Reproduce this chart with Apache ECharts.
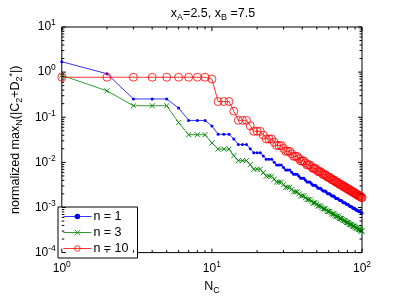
<!DOCTYPE html>
<html>
<head>
<meta charset="utf-8">
<script src="https://cdn.jsdelivr.net/npm/echarts@6/dist/echarts.min.js"></script>
<style>html,body{margin:0;padding:0;background:#fff}#c{width:399px;height:300px}</style>
</head>
<body>
<div id="c"></div>
<script>
// x values: N_C = 1..100
const nC = Array.from({length: 100}, (_, i) => i + 1);

const seriesNames = ['n = 1', 'n = 3', 'n = 10'];

// n = 1 (blue)
const n1 = [1.70,0.92,0.254,0.254,0.254,0.16,0.085,0.085,0.085,0.064,
0.042,0.042,0.042,0.033,0.0248,0.0248,0.0248,0.020,0.0164,0.0164,
0.0164,0.0139,0.01167,0.01167,0.01167,0.0101,0.00872,0.00872,0.00872,0.00769,
0.00678,0.00678,0.00678,0.00606,0.00542,0.00542,0.00542,0.0049,0.004425,0.004425,
0.004425,0.004037,0.003683,0.003683,0.003683,0.003388,0.003116,0.003116,0.003116,0.002884,
0.00267,0.00267,0.00267,0.002486,0.002315,0.002315,0.002315,0.002165,0.002025,0.002025,
0.002025,0.001902,0.001787,0.001787,0.001787,0.001686,0.00159,0.00159,0.00159,0.001505,
0.001424,0.001424,0.001424,0.00135,0.001281,0.001281,0.001281,0.001218,0.001159,0.001159,
0.001159,0.001105,0.001054,0.001054,0.001054,0.001007,0.000963,0.000963,0.000963,0.000922,
0.000883,0.000883,0.000883,0.000847,0.000813,0.000813,0.000813,0.000781,0.00075,0.00075];

// n = 3 (green)
const n3 = [0.85,0.385,0.18,0.18,0.18,0.076,0.041,0.041,0.041,0.027,
0.0197,0.0197,0.0197,0.0141,0.0109,0.0109,0.0109,0.0089,0.00705,0.00705,
0.00705,0.0059,0.00493,0.00493,0.00493,0.00424,0.003648,0.003648,0.003648,0.003198,
0.002803,0.002803,0.002803,0.002496,0.002222,0.002222,0.002222,0.002003,0.001806,0.001806,
0.001806,0.001645,0.001498,0.001498,0.001498,0.001375,0.001263,0.001263,0.001263,0.001168,
0.00108,0.00108,0.00108,0.001004,0.000934,0.000934,0.000934,0.000874,0.000817,0.000817,
0.000817,0.000767,0.00072,0.00072,0.00072,0.000678,0.000638,0.000638,0.000638,0.000604,
0.000571,0.000571,0.000571,0.000541,0.0005125,0.0005125,0.0005125,0.000488,0.000464,0.000464,
0.000464,0.000442,0.000421,0.000421,0.000421,0.000403,0.000385,0.000385,0.000385,0.000368,
0.000352,0.000352,0.000352,0.000338,0.0003244,0.0003244,0.0003244,0.000312,0.0003,0.0003];

// n = 10 (red)
const n10 = [0.77,0.77,0.77,0.77,0.77,0.77,0.77,0.77,0.77,0.70,
0.223,0.223,0.223,0.136,0.0853,0.0853,0.0853,0.0647,0.0488,0.0488,
0.0488,0.0401,0.0330,0.0330,0.0330,0.0279,0.0236,0.0236,0.0236,0.02037,
0.01758,0.01758,0.01758,0.01545,0.01358,0.01358,0.01358,0.01208,0.01075,0.01075,
0.01075,0.009715,0.00878,0.00878,0.00878,0.008025,0.007335,0.007335,0.007335,0.00676,
0.006231,0.006231,0.006231,0.005778,0.005357,0.005357,0.005357,0.005,0.004667,0.004667,
0.004667,0.004369,0.004089,0.004089,0.004089,0.003848,0.003622,0.003622,0.003622,0.003416,
0.003221,0.003221,0.003221,0.003052,0.002891,0.002891,0.002891,0.002746,0.002609,0.002609,
0.002609,0.002481,0.00236,0.00236,0.00236,0.002253,0.00215,0.00215,0.00215,0.002053,
0.001961,0.001961,0.001961,0.001879,0.001801,0.001801,0.001801,0.001729,0.00166,0.00166];

// tick values
const xMajorTicks = [1, 10, 100];
const xMinorTicks = [2,3,4,5,6,7,8,9,20,30,40,50,60,70,80,90];
const yMajorTicks = [1e-4, 1e-3, 1e-2, 1e-1, 1, 10];
const yMinorMult = [2,3,4,5,6,7,8,9];

const X_MIN = 1, X_MAX = 100, Y_MIN = 1e-4, Y_MAX = 10;
const FONT = "'Liberation Sans', Arial, Helvetica, sans-serif";

function pairs(vals) { return vals.map((v, i) => [nC[i], v]); }

const yMinorTicks = [];
yMajorTicks.slice(0, -1).forEach(b => yMinorMult.forEach(m => yMinorTicks.push(b * m)));

const xTickData = xMajorTicks.map(v => [v, Y_MIN, 1]).concat(xMinorTicks.map(v => [v, Y_MIN, 0]));
const yTickData = yMajorTicks.map(v => [X_MIN, v, 1]).concat(yMinorTicks.map(v => [X_MIN, v, 0]));

function ln(x1, y1, x2, y2) {
  return {type: 'line', shape: {x1, y1, x2, y2}, style: {stroke: '#000', lineWidth: 1}};
}

function expLabel(v) {
  const e = Math.round(Math.log10(v));
  return '10{sup|' + e + '}';
}

const supRich = {
  sup: {fontSize: 8.5, fontFamily: FONT, color: '#000', verticalAlign: 'top', padding: [0, 0, 8, 0]}
};
const nameRich = {
  sub: {fontSize: 9, fontFamily: FONT, color: '#000', padding: [8, 0, 0, 0]},
  sup: {fontSize: 9, fontFamily: FONT, color: '#000', padding: [0, 0, 6, 0]}
};

const chart = echarts.init(document.getElementById('c'), null, {renderer: 'canvas'});
chart.setOption({
  animation: false,
  backgroundColor: '#fff',
  title: {
    text: 'x{sub|A}=2.5, x{sub|B} =7.5',
    left: 208, top: 0, textAlign: 'center',
    textStyle: {fontSize: 12.5, fontWeight: 'normal', fontFamily: FONT, color: '#000', rich: nameRich}
  },
  grid: {left: 55, right: 37, top: 27, bottom: 41, show: true, borderColor: '#000', borderWidth: 1, backgroundColor: '#fff'},
  legend: {
    data: seriesNames,
    orient: 'vertical', left: 58, top: 207,
    backgroundColor: '#fff', borderColor: '#000', borderWidth: 1,
    padding: [2, 9, 2, 5], itemGap: 1, itemWidth: 28, itemHeight: 7,
    lineStyle: {width: 0.8},
    itemStyle: {borderWidth: 0.8},
    textStyle: {fontSize: 12.5, fontFamily: FONT, color: '#000', padding: [0, 0, 0, -3], lineHeight: 15}
  },
  xAxis: {
    type: 'log', logBase: 10, min: X_MIN, max: X_MAX,
    axisLine: {show: false}, axisTick: {show: false}, splitLine: {show: false},
    axisLabel: {formatter: expLabel, margin: 8, rich: supRich, fontSize: 12, fontFamily: FONT, color: '#000'},
    name: 'N{sub|C}', nameLocation: 'middle', nameGap: 25,
    nameTextStyle: {fontSize: 12.5, fontFamily: FONT, color: '#000', rich: nameRich}
  },
  yAxis: {
    type: 'log', logBase: 10, min: Y_MIN, max: Y_MAX,
    axisLine: {show: false}, axisTick: {show: false}, splitLine: {show: false},
    axisLabel: {formatter: expLabel, margin: 6, rich: supRich, fontSize: 12, fontFamily: FONT, color: '#000'},
    name: 'normalized max{sub|N}(|C{sub|2}+D{sub|2}{sup|*}|)', nameLocation: 'middle', nameGap: 35, nameRotate: 90,
    nameTextStyle: {fontSize: 12.5, fontFamily: FONT, color: '#000', rich: nameRich}
  },
  series: [
    {
      name: seriesNames[0], type: 'line', data: pairs(n1),
      symbol: 'circle', symbolSize: 3, showAllSymbol: true,
      lineStyle: {color: '#0000ff', width: 0.8}, itemStyle: {color: '#0000ff'}, z: 3
    },
    {
      name: seriesNames[1], type: 'line', data: pairs(n3),
      symbol: 'path://M0,0L10,10M10,0L0,10', symbolSize: 5, showAllSymbol: true,
      lineStyle: {color: '#008000', width: 0.8},
      itemStyle: {color: '#008000', borderColor: '#008000', borderWidth: 0.9}, z: 3
    },
    {
      name: seriesNames[2], type: 'line', data: pairs(n10),
      symbol: 'circle', symbolSize: 8, showAllSymbol: true,
      lineStyle: {color: '#ff0000', width: 0.8},
      itemStyle: {color: 'rgba(255,0,0,0)', borderColor: '#ff0000', borderWidth: 0.8}, z: 3
    },
    {
      type: 'custom', silent: true, clip: false, z: 5,
      data: xTickData, encode: {x: 0, y: 1},
      renderItem: function (params, api) {
        const x = api.value(0), major = api.value(2);
        const b = api.coord([x, Y_MIN]), t = api.coord([x, Y_MAX]);
        const len = major ? 4 : 2.5;
        return {type: 'group', children: [ln(b[0], b[1], b[0], b[1] - len), ln(t[0], t[1], t[0], t[1] + len)]};
      }
    },
    {
      type: 'custom', silent: true, clip: false, z: 5,
      data: yTickData, encode: {x: 0, y: 1},
      renderItem: function (params, api) {
        const y = api.value(1), major = api.value(2);
        const l = api.coord([X_MIN, y]), r = api.coord([X_MAX, y]);
        const len = major ? 4 : 2.5;
        return {type: 'group', children: [ln(l[0], l[1], l[0] + len, l[1]), ln(r[0], r[1], r[0] - len, r[1])]};
      }
    }
  ]
});
</script>
</body>
</html>
